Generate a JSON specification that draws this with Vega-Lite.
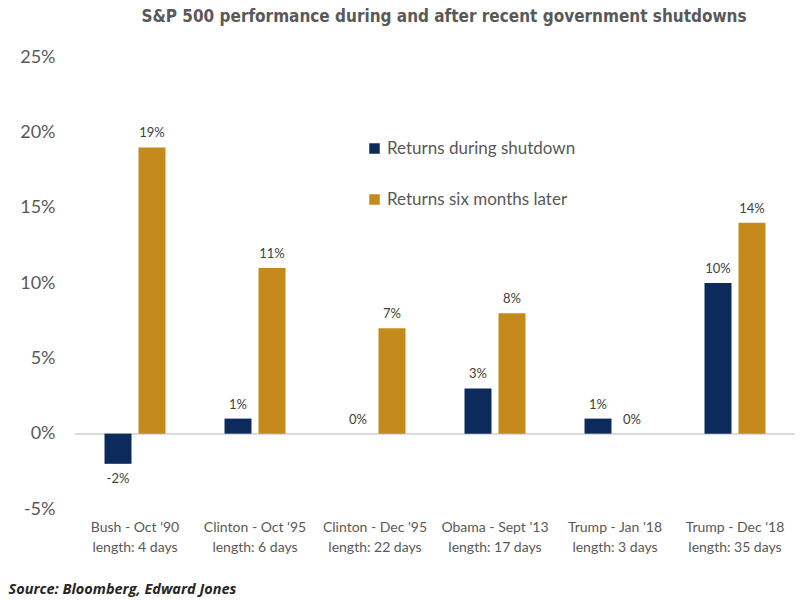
{
  "$schema": "https://vega.github.io/schema/vega-lite/v6.json",
  "autosize": {"type": "none"},
  "width": 720,
  "height": 452,
  "padding": {"left": 75, "top": 57, "right": 17, "bottom": 96},
  "background": "white",
  "config": {"view": {"stroke": null}, "font": "Lato"},
  "title": {
    "text": "S&P 500 performance during and after recent government shutdowns",
    "font": "DejaVu Sans Condensed",
    "fontSize": 17,
    "fontWeight": "bold",
    "color": "#595959",
    "offset": 22,
    "dx": 9
  },
  "data": {
    "values": [
      {"event": "Bush - Oct '90|length: 4 days", "series": "Returns during shutdown", "value": -0.02},
      {"event": "Bush - Oct '90|length: 4 days", "series": "Returns six months later", "value": 0.19},
      {"event": "Clinton - Oct '95|length: 6 days", "series": "Returns during shutdown", "value": 0.01},
      {"event": "Clinton - Oct '95|length: 6 days", "series": "Returns six months later", "value": 0.11},
      {"event": "Clinton - Dec '95|length: 22 days", "series": "Returns during shutdown", "value": 0.0},
      {"event": "Clinton - Dec '95|length: 22 days", "series": "Returns six months later", "value": 0.07},
      {"event": "Obama - Sept '13|length: 17 days", "series": "Returns during shutdown", "value": 0.03},
      {"event": "Obama - Sept '13|length: 17 days", "series": "Returns six months later", "value": 0.08},
      {"event": "Trump - Jan '18|length: 3 days", "series": "Returns during shutdown", "value": 0.01},
      {"event": "Trump - Jan '18|length: 3 days", "series": "Returns six months later", "value": 0.0},
      {"event": "Trump - Dec '18|length: 35 days", "series": "Returns during shutdown", "value": 0.10},
      {"event": "Trump - Dec '18|length: 35 days", "series": "Returns six months later", "value": 0.14}
    ]
  },
  "encoding": {
    "x": {
      "field": "event",
      "type": "nominal",
      "sort": ["Bush - Oct '90|length: 4 days", "Clinton - Oct '95|length: 6 days", "Clinton - Dec '95|length: 22 days", "Obama - Sept '13|length: 17 days", "Trump - Jan '18|length: 3 days", "Trump - Dec '18|length: 35 days"],
      "scale": {"paddingInner": 0, "paddingOuter": 0},
      "axis": {
        "title": "Source: Bloomberg, Edward Jones",
        "titleFont": "Open Sans",
        "titleFontSize": 14.5,
        "titleFontWeight": "bold",
        "titleFontStyle": "italic",
        "titleColor": "#262626",
        "titleAnchor": "start",
        "titleAlign": "left",
        "titleBaseline": "alphabetic",
        "titleX": -67,
        "titleY": 84,
        "labelExpr": "split(datum.label, '|')",
        "labelAngle": 0,
        "labelFontSize": 14,
        "labelColor": "#595959",
        "labelPadding": 11,
        "labelLineHeight": 20,
        "labelLimit": 0,
        "ticks": false,
        "domain": false
      }
    },
    "y": {
      "field": "value",
      "type": "quantitative",
      "scale": {"domain": [-0.05, 0.25], "nice": false},
      "axis": {
        "title": null,
        "format": ".0%",
        "labelExpr": "replace(datum.label, '\u2212', '-')",
        "values": [-0.05, 0, 0.05, 0.1, 0.15, 0.2, 0.25],
        "labelFontSize": 18,
        "labelColor": "#595959",
        "labelPadding": 20,
        "ticks": false,
        "domain": false,
        "grid": false
      }
    },
    "xOffset": {
      "field": "series",
      "type": "nominal",
      "scale": {"paddingInner": 0.206, "paddingOuter": 0.868}
    }
  },
  "layer": [
    {
      "mark": {"type": "rule", "color": "#d9d9d9", "strokeWidth": 1},
      "encoding": {"y": {"datum": 0}, "x": null, "xOffset": null}
    },
    {
      "mark": {"type": "bar"},
      "encoding": {
        "color": {
          "field": "series",
          "type": "nominal",
          "scale": {"domain": ["Returns during shutdown", "Returns six months later"], "range": ["#0c2a5c", "#c48b1c"]},
          "legend": {
            "title": null,
            "orient": "none",
            "legendX": 291,
            "legendY": 83,
            "symbolType": "square",
            "symbolSize": 110,
            "symbolStrokeWidth": 0,
            "labelFontSize": 17,
            "labelColor": "#595959",
            "labelOffset": 4,
            "labelLimit": 0,
            "rowPadding": 33
          }
        }
      }
    },
    {
      "transform": [{"filter": "datum.value >= 0"}],
      "mark": {"type": "text", "baseline": "bottom", "dy": -7, "fontSize": 13, "color": "#404040", "text": {"expr": "replace(format(datum.value, '.0%'), '\u2212', '-')"}},
      "encoding": {}
    },
    {
      "transform": [{"filter": "datum.value < 0"}],
      "mark": {"type": "text", "baseline": "top", "dy": 9, "fontSize": 13, "color": "#404040", "text": {"expr": "replace(format(datum.value, '.0%'), '\u2212', '-')"}},
      "encoding": {}
    }
  ]
}
